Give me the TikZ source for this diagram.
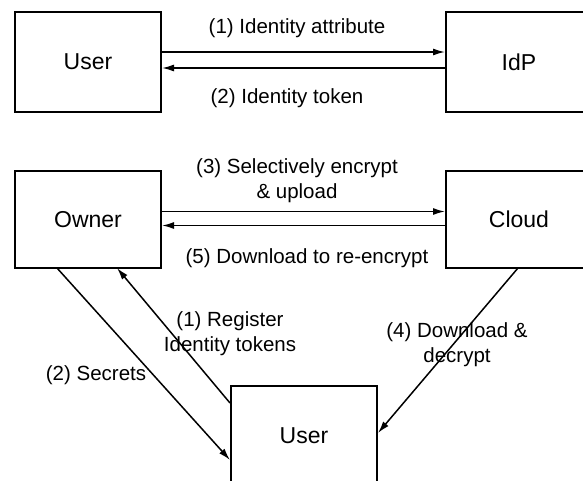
\documentclass[tikz,border=0pt]{standalone}
\usepackage{fontspec}
\setmainfont{Liberation Sans}
\usetikzlibrary{arrows.meta}

\tikzset{
    box/.style={draw, line width=2pt, minimum width=146pt, minimum height=100pt,
        inner sep=0pt, font=\fontsize{23}{27}\selectfont},
    flow/.style={->, line width=1.5pt},
    lbl/.style={align=center, inner sep=0pt, font=\fontsize{20.5}{25}\selectfont}
}

\begin{document}
\begin{tikzpicture}[>={Latex[length=12pt,width=7pt]}, x=1pt, y=-1pt]
    \useasboundingbox (0,0) rectangle (583,480);
    \clip (0,0) rectangle (583,480);

    \node[box] (userTop) at (88,62) {User};
    \node[box] (idp) at (519,62) {IdP};
    \node[box, minimum height=97pt] (owner) at (88,219.5) {Owner};
    \node[box, minimum height=97pt] (cloud) at (519,219.5) {Cloud};
    \node[box] (userBottom) at (304,436) {User};

    \coordinate (ownerOut) at (57,268);
    \coordinate (ownerIn) at (117,268);
    \coordinate (cloudOut) at (518,268);

    \draw[flow] ([yshift=10pt]userTop.east) -- ([yshift=10pt]idp.west);
    \draw[flow] ([yshift=-6pt]idp.west) -- ([yshift=-6pt]userTop.east);
    \draw[flow] ([yshift=8pt]owner.east) -- ([yshift=8pt]cloud.west);
    \draw[flow] ([yshift=-6pt]cloud.west) -- ([yshift=-6pt]owner.east);

    \draw[flow] (ownerOut) -- ([yshift=-24pt]userBottom.west);
    \draw[flow] ([yshift=33pt]userBottom.west) -- (ownerIn);
    \draw[flow] (cloudOut) -- ([yshift=3pt]userBottom.east);

    \node[lbl] (attrLbl) at (297,28) {(1) Identity attribute};
    \node[lbl] (tokenLbl) at (287,98) {(2) Identity token};
    \node[lbl] (uploadLbl) at (297,181) {(3) Selectively encrypt\\\& upload};
    \node[lbl] (reencLbl) at (307,258) {(5) Download to re-encrypt};
    \node[lbl] (registerLbl) at (230,334) {(1) Register\\Identity tokens};
    \node[lbl] (secretsLbl) at (96,375) {(2) Secrets};
    \node[lbl] (decryptLbl) at (457,345) {(4) Download \&\\decrypt};
\end{tikzpicture}
\end{document}
